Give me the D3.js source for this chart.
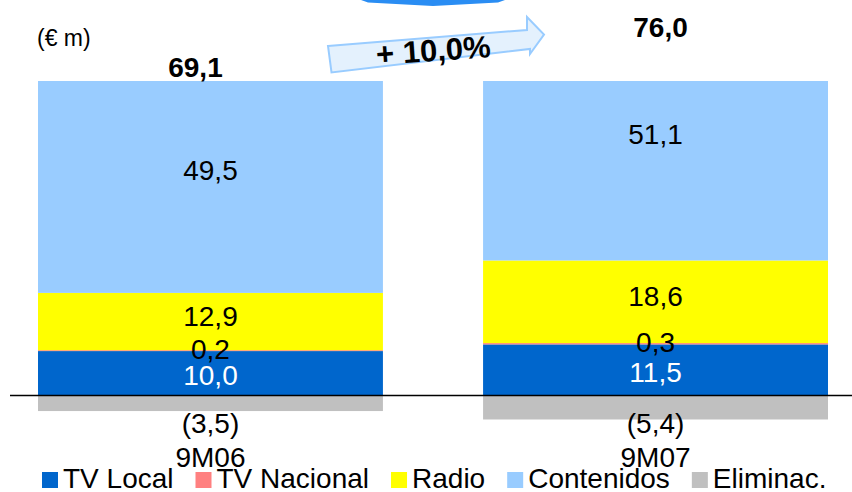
<!DOCTYPE html>
<html>
<head>
<meta charset="utf-8">
<script src="https://cdn.jsdelivr.net/npm/d3@7"></script>
<style>
  html, body { margin: 0; padding: 0; background: #fff; }
  svg { display: block; font-family: "Liberation Sans", Arial, sans-serif; }
</style>
</head>
<body>
<svg id="chart" width="852" height="492"></svg>
<script>
// ---- data ----
const categories = ["9M06", "9M07"];
const seriesNames = ["TV Local", "TV Nacional", "Radio", "Contenidos", "Eliminac."];
const seriesColors = ["#0066CC", "#FF8080", "#FFFF00", "#99CCFF", "#C0C0C0"];
const tvLocal = [10.0, 11.5];
const tvNacional = [0.2, 0.3];
const radio = [12.9, 18.6];
const contenidos = [49.5, 51.1];
const eliminac = [-3.5, -5.4];
const totals = [69.1, 76.0];
const growthLabel = "+ 10,0%";
const unitLabel = "(€ m)";
const axisMax = 70.8;

const seriesValues = [tvLocal, tvNacional, radio, contenidos, eliminac];

// ---- layout ----
const svg = d3.select("#chart");
const W = 852, H = 492;
const plotTop = 81, zeroY = 395.5;

const x = d3.scaleBand().domain(categories).range([38, 828]).paddingInner(0.225).paddingOuter(0);
const y = d3.scaleLinear().domain([0, axisMax]).range([zeroY, plotTop]);

const fmt = v => d3.format(".1f")(Math.abs(v)).replace(".", ",");

// stacked segments
const segs = [];
categories.forEach((c, i) => {
  let pos = 0, neg = 0;
  seriesValues.forEach((arr, s) => {
    const v = arr[i];
    let y0, y1;
    if (v >= 0) { y0 = pos; y1 = pos + v; pos = y1; }
    else { y0 = neg + v; y1 = neg; neg = y0; }
    segs.push({ cat: c, i, s, v, y0, y1 });
  });
});
const posSum = categories.map((c, i) => d3.sum(segs.filter(d => d.i === i && d.v > 0), d => d.v));

svg.append("rect").attr("width", W).attr("height", H).attr("fill", "#fff");

svg.append("defs").append("clipPath").attr("id", "plotclip")
  .append("rect").attr("x", 0).attr("y", plotTop).attr("width", W).attr("height", H - plotTop);

// top decorative chevron (partial shape at top edge)
svg.append("polygon")
  .attr("points", "361,0 505,0 498,2.5 433,6 368,2.5")
  .attr("fill", "#2A8DF3");

// bars
svg.append("g").attr("clip-path", "url(#plotclip)")
  .selectAll("rect").data(segs).join("rect")
  .attr("x", d => x(d.cat))
  .attr("width", x.bandwidth())
  .attr("y", d => y(d.y1))
  .attr("height", d => y(d.y0) - y(d.y1))
  .attr("fill", d => seriesColors[d.s]);

// zero line
svg.append("line")
  .attr("x1", 10).attr("x2", W)
  .attr("y1", y(0)).attr("y2", y(0))
  .attr("stroke", "#000").attr("stroke-width", 1.5);

// segment labels
const nudge = [2, -2, -6, -12.5];
const labelSize = 28, capHalf = labelSize * 0.716 / 2;
svg.append("g").selectAll("text").data(segs).join("text")
  .attr("x", d => x(d.cat) + x.bandwidth() / 2)
  .attr("y", d => d.v >= 0
      ? y((d.y0 + d.y1) / 2) + capHalf + nudge[d.s]
      : y(0) + 37)
  .attr("text-anchor", "middle")
  .attr("font-size", labelSize)
  .attr("fill", d => d.s === 0 ? "#fff" : "#000")
  .text(d => d.v >= 0 ? fmt(d.v) : "(" + fmt(d.v) + ")");

// category labels
svg.append("g").selectAll("text").data(categories).join("text")
  .attr("x", d => x(d) + x.bandwidth() / 2)
  .attr("y", y(0) + 71.5)
  .attr("text-anchor", "middle")
  .attr("font-size", labelSize)
  .attr("fill", "#000")
  .text(d => d);

// totals
const totalShift = [-15, 5];
svg.append("g").selectAll("text").data(totals).join("text")
  .attr("x", (d, i) => x(categories[i]) + x.bandwidth() / 2 + totalShift[i])
  .attr("y", (d, i) => y(posSum[i]) + 3.5)
  .attr("text-anchor", "middle")
  .attr("font-size", 28)
  .attr("font-weight", "bold")
  .attr("fill", "#000")
  .text(d => fmt(d));

// unit label
svg.append("text")
  .attr("x", 37).attr("y", 46)
  .attr("font-size", 23)
  .attr("fill", "#000")
  .text(unitLabel);

// growth arrow
svg.append("polygon")
  .attr("points", "328,46 527,30 527,17 544,34.5 530,54 530,49 331.5,72.5")
  .attr("fill", "#E4F1FD")
  .attr("stroke", "#99CCFF")
  .attr("stroke-width", 2)
  .attr("stroke-linejoin", "miter");
svg.append("text")
  .attr("transform", "translate(434,61) rotate(-4)")
  .attr("text-anchor", "middle")
  .attr("font-size", 31)
  .attr("font-weight", "bold")
  .attr("fill", "#000")
  .text(growthLabel);

// legend
const legend = svg.append("g");
let cursor = 42;
seriesNames.forEach((name, s) => {
  legend.append("rect")
    .attr("x", cursor).attr("y", 472).attr("width", 16).attr("height", 16)
    .attr("fill", seriesColors[s]);
  const t = legend.append("text")
    .attr("x", cursor + 21).attr("y", 488)
    .attr("font-size", 28)
    .attr("fill", "#000")
    .text(name);
  cursor += 21 + t.node().getComputedTextLength() + 22;
});
</script>
</body>
</html>
